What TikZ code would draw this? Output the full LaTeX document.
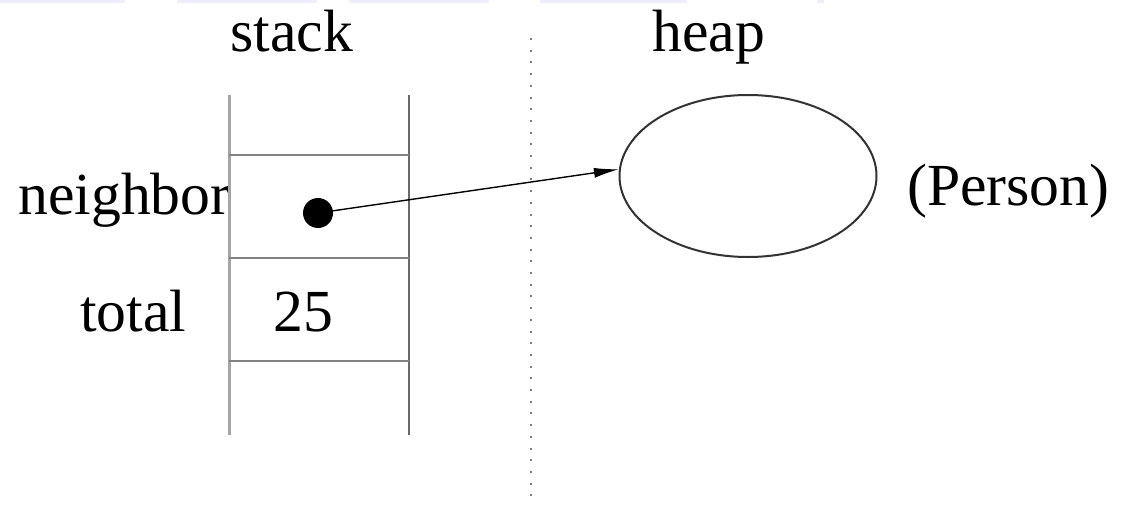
\documentclass[tikz,border=0pt]{standalone}
\usepackage{fontspec}
\setmainfont{Liberation Serif}
\usetikzlibrary{shapes.geometric,arrows.meta}
\definecolor{strip}{RGB}{238,238,252}
\definecolor{lgray}{RGB}{165,165,165}
\definecolor{mgray}{RGB}{130,130,130}
\definecolor{dgray}{RGB}{105,105,105}
\begin{document}
\begin{tikzpicture}[x=1pt,y=-1pt,
  lbl/.style={inner sep=0pt,anchor=base west,font=\fontsize{59.7}{62}\selectfont},
  cellline/.style={draw=mgray,line width=2.5pt},
  divider/.style={draw=gray,line width=1.6pt,dash pattern=on 2pt off 9.7pt},
  refarrow/.style={draw=black,line width=1.4pt,-{Latex[length=25pt,width=10pt]}}]
\useasboundingbox (0,0) rectangle (1125,506);
% faint strips at top edge
\foreach \a/\b in {0/125,177/317,349/489,540/687,817/824}
  \fill[strip] (\a,0) rectangle (\b,3);
% labels
\node[lbl] (stack) at (230,51) {stack};
\node[lbl] (heap) at (652,51) {heap};
\node[lbl] (neighbor) at (18,214) {neighbor};
\node[lbl] (total) at (80,331) {total};
\node[lbl] (val) at (273,331) {25};
\node[lbl] (person) at (907,205) {(Person)};
% stack frame
\coordinate (tl) at (229,95);
\coordinate (bl) at (229,435);
\coordinate (tr) at (409,95);
\coordinate (br) at (409,435);
\draw[draw=lgray,line width=3pt] (tl) -- (bl);
\draw[draw=dgray,line width=2pt] (tr) -- (br);
\foreach \y in {155,258,361}
  \draw[cellline] (229,\y) -- (409,\y);
% divider
\coordinate (dtop) at (531,38);
\coordinate (dbot) at (531,506);
\draw[divider] (dtop) -- (dbot);
% heap object
\node[ellipse,draw=black!80,line width=2pt,minimum width=257pt,minimum height=162pt,inner sep=0pt] (obj) at (748,176) {};
% pointer
\node[circle,fill=black,minimum size=30pt,inner sep=0pt] (dot) at (318,213) {};
\draw[refarrow] (dot.center) -- (obj.177);
\end{tikzpicture}
\end{document}
